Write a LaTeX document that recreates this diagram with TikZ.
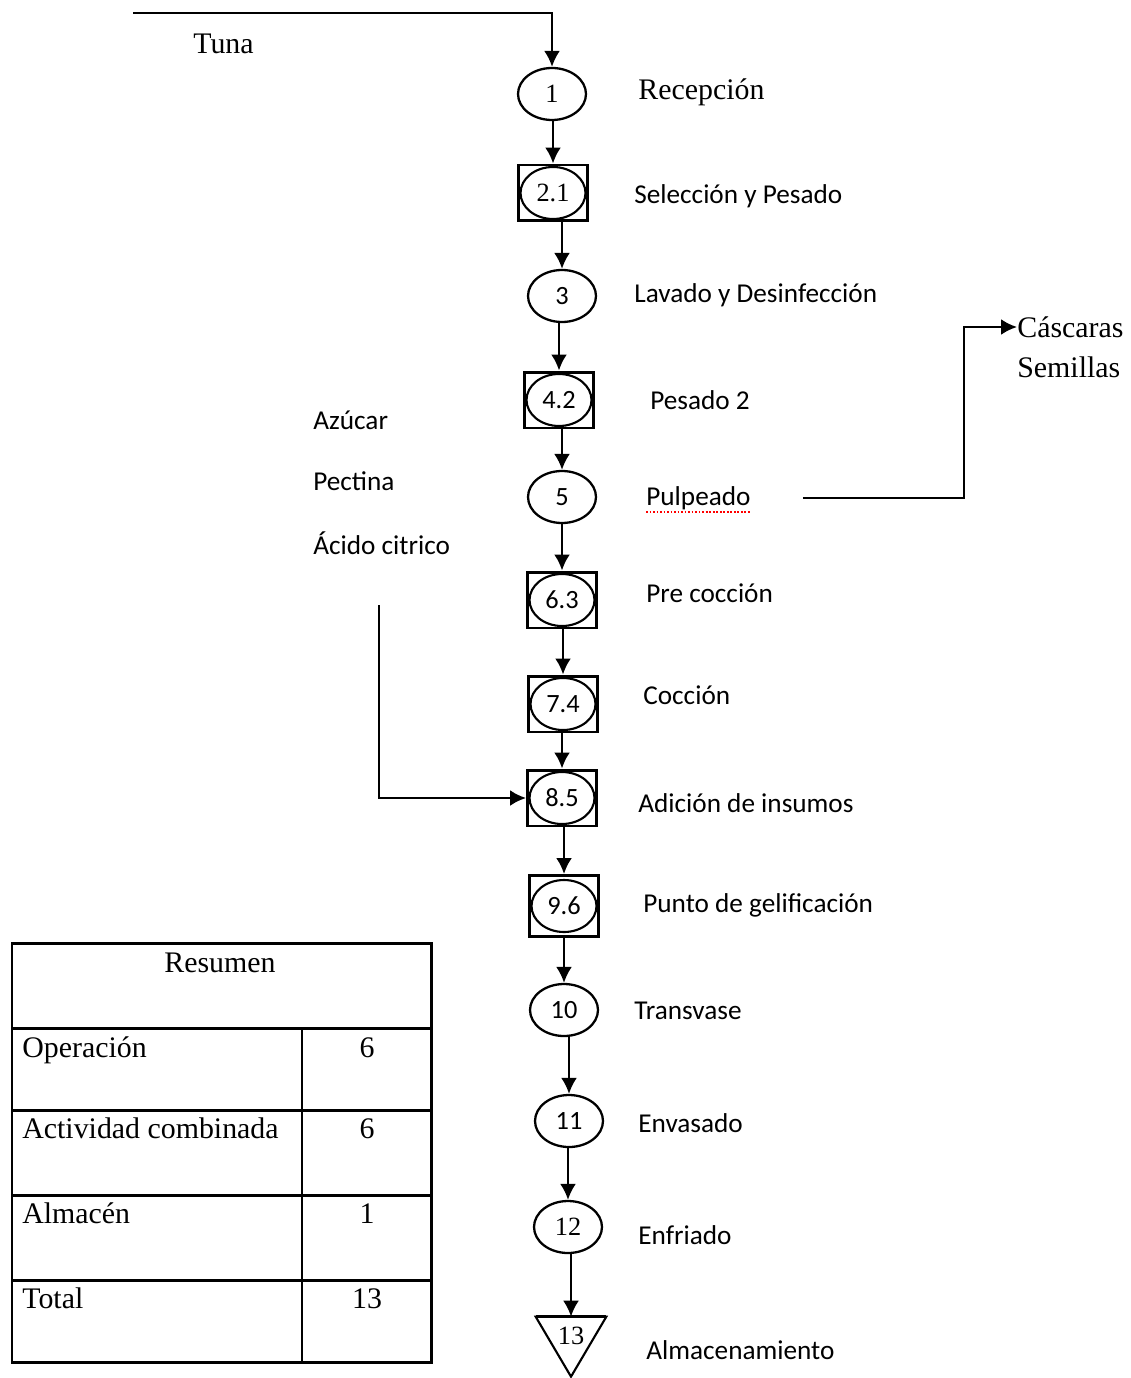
\documentclass[tikz,border=0pt]{standalone}
\usepackage{fontspec}
\setmainfont{Liberation Serif}
\newfontfamily\calib{Carlito}
\usetikzlibrary{arrows.meta,shapes.geometric,positioning}
\tikzset{>={Latex[length=3.2mm,width=3.2mm]}}
\tikzset{
  oper/.style={draw,ellipse,line width=1.3pt,minimum width=1.36cm,
    minimum height=1.04cm,inner sep=0pt,font=\fontsize{15}{15}\selectfont},
  combo/.style={draw,rectangle,line width=1.7pt,minimum width=1.38cm,
    minimum height=1.12cm,inner sep=0pt,font=\calib\fontsize{15}{15}\selectfont,
    path picture={\draw[line width=1.2pt] (path picture bounding box.center)
      ellipse [x radius=.65cm,y radius=.52cm];}},
  sansnum/.style={font=\calib\fontsize{15}{15}\selectfont},
  lbl/.style={anchor=west,inner sep=0pt,font=\calib\fontsize{15.5}{18}\selectfont},
  slbl/.style={anchor=west,inner sep=0pt,font=\fontsize{17}{20}\selectfont},
  cell/.style={inner sep=0pt,font=\fontsize{17}{20}\selectfont},
  flow/.style={->,line width=1.4pt},
  tab/.style={line width=1.7pt},
}

\begin{document}
\begin{tikzpicture}[x=0.02cm,y=-0.02cm]
\useasboundingbox (0,0) rectangle (1130,1378);

% process column
\node[oper] (n1) at (552,94) {1};
\node[combo,font=\fontsize{15}{15}\selectfont] (n2) at (553,193) {2.1};
\node[oper,sansnum] (n3) at (562,296) {3};
\node[combo] (n4) at (559,400) {4.2};
\node[oper,sansnum] (n5) at (562,497) {5};
\node[combo] (n6) at (562,600) {6.3};
\node[combo] (n7) at (563,704) {7.4};
\node[combo] (n8) at (562,798) {8.5};
\node[combo,minimum height=1.22cm] (n9) at (564,906) {9.6};
\node[oper,sansnum] (n10) at (564,1010) {10};
\node[oper,sansnum] (n11) at (569,1121) {11};
\node[oper] (n12) at (568,1227) {12};
\node[inner sep=0pt,minimum width=1.4cm,minimum height=0.76cm,
  font=\fontsize{15}{15}\selectfont] (n13) at (571,1336) {13};
\draw[line width=1.2pt] (n13.north west) -- (n13.north east)
  -- ([yshift=-1.2cm]n13.north) -- cycle;
\draw[line width=1.8pt] (n13.north west) -- (n13.north east);

% labels
\node[slbl] (l1) at (638,92) {Recepción};
\node[lbl] (l2) at (634,196) {Selección y Pesado};
\node[lbl] (l3) at (634,295) {Lavado y Desinfección};
\node[lbl] (l4) at (650,400) {Pesado 2};
\node[lbl] (l5) at (646,498) {Pulpeado};
\node[lbl] (l6) at (646,593) {Pre cocción};
\node[lbl] (l7) at (643,695) {Cocción};
\node[lbl] (l8) at (638,803) {Adición de insumos};
\node[lbl] (l9) at (643,905) {Punto de gelificación};
\node[lbl] (l10) at (634,1011) {Transvase};
\node[lbl] (l11) at (638,1123) {Envasado};
\node[lbl] (l12) at (638,1235) {Enfriado};
\node[lbl] (l13) at (646,1350) {Almacenamiento};
\draw[red,densely dotted,line width=1pt] ([yshift=-1pt]l5.south west)
  -- ([yshift=-1pt]l5.south east);

% inputs and outputs
\node[slbl] (tuna) at (193,44) {Tuna};
\coordinate (tunain) at (133,13);
\node[lbl] (azu) at (313,420) {Azúcar};
\node[lbl] (pec) at (313,481) {Pectina};
\node[lbl] (aci) at (313,543) {Ácido citrico};
\coordinate (insin) at (379,605);
\node[slbl] (casc) at (1017,327) {Cáscaras};
\node[slbl] (semi) at (1017,367) {Semillas};

% connectors
\draw[flow] (tunain) -| (n1.north);
\foreach \a/\b in {n1/n2,n2/n3,n3/n4,n4/n5,n5/n6,n6/n7,n7/n8,n8/n9,
  n9/n10,n10/n11,n11/n12,n12/n13}
  \draw[flow] (\a.south -| \b.north) -- (\b.north);
\draw[flow] (insin) |- (n8.west);
\draw[flow] ([xshift=1.04cm]l5.east) -- ++(161,0) |- (casc.west);

% summary table
\draw[tab] (12,943) rectangle (431,1362);
\foreach \y in {1028,1110,1195,1280}
  \draw[tab] (12,\y) -- (431,\y);
\draw[tab] (302,1028) -- (302,1362);
\node[cell,anchor=base] (res) at (220,972) {Resumen};
\node[cell,anchor=base west] (op) at (22,1057) {Operación};
\node[cell,anchor=base] (opn) at (367,1057) {6};
\node[cell,anchor=base west] (ac) at (22,1138) {Actividad combinada};
\node[cell,anchor=base] (acn) at (367,1138) {6};
\node[cell,anchor=base west] (al) at (22,1223) {Almacén};
\node[cell,anchor=base] (aln) at (367,1223) {1};
\node[cell,anchor=base west] (tot) at (22,1308) {Total};
\node[cell,anchor=base] (totn) at (367,1308) {13};
\end{tikzpicture}
\end{document}
